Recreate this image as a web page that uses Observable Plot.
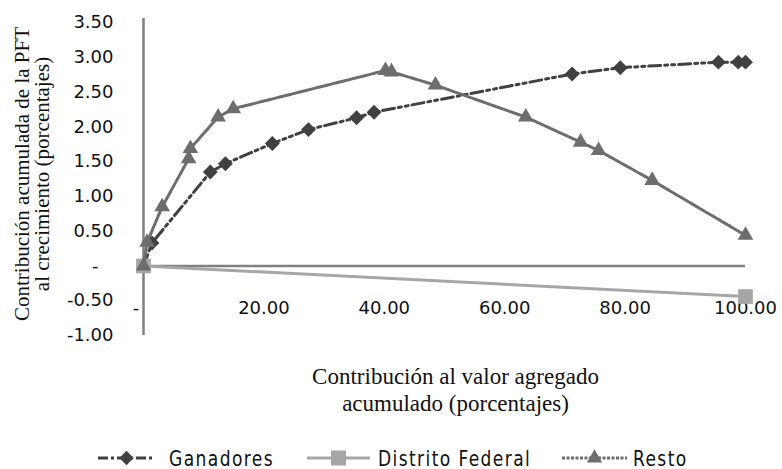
<!DOCTYPE html>
<html><head><meta charset="utf-8">
<script src="https://cdn.jsdelivr.net/npm/d3@7"></script>
<script src="https://cdn.jsdelivr.net/npm/@observablehq/plot@0.6"></script>
<style>
body{margin:0;background:#fff;width:782px;height:469px;overflow:hidden}
#chart svg{display:block}
#legend{position:relative;width:782px;height:29px;font-family:"DejaVu Sans Condensed","DejaVu Sans",sans-serif;font-size:19px;letter-spacing:1.4px;color:#111}
.sample{position:absolute;top:6px;height:24px}
.lab{position:absolute;top:8px;height:20px;line-height:20px;transform:scaleY(1.12);transform-origin:50% 50%;white-space:nowrap}
</style></head><body>
<div id="chart"></div>
<div id="legend"></div>
<script>
// ---- data ----
const seriesNames = ["Ganadores", "Distrito Federal", "Resto"];
const ganadoresX = [0, 1.4, 11.1, 13.6, 21.4, 27.4, 35.4, 38.3, 71.2, 79.2, 95.5, 98.8, 100];
const ganadoresY = [0, 0.33, 1.35, 1.47, 1.76, 1.96, 2.13, 2.21, 2.76, 2.85, 2.93, 2.93, 2.93];
const distritoX = [0, 100];
const distritoY = [0, -0.44];
const restoX = [0, 0.6, 3.1, 7.5, 7.8, 12.4, 14.9, 40.2, 41.2, 48.5, 63.5, 72.6, 75.6, 84.5, 100];
const restoY = [0, 0.34, 0.85, 1.54, 1.69, 2.14, 2.26, 2.81, 2.79, 2.60, 2.14, 1.78, 1.66, 1.23, 0.44];
const xTicks = [0, 20, 40, 60, 80, 100];
const yTicks = [-1, -0.5, 0, 0.5, 1, 1.5, 2, 2.5, 3, 3.5];
const yTitle = "Contribución acumulada de la PFT\nal crecimiento (porcentajes)";
const xTitle = "Contribución al valor agregado\nacumulado (porcentajes)";

const toRows = (xs, ys) => xs.map((x, i) => ({x, y: ys[i]}));
const ganadores = toRows(ganadoresX, ganadoresY);
const distrito = toRows(distritoX, distritoY);
const resto = toRows(restoX, restoY);

const fmt = d => d === 0 ? "-\u2007\u2009" : d.toFixed(2);

const cG = "#404040", cD = "#a6a6a6", cR = "#6d6d6d", cAxis = "#808080";
const dashG = "12,4,3,4,3,4", dashR = "5,1.5";

const chart = Plot.plot({
  width: 782, height: 440,
  marginLeft: 143, marginRight: 37, marginTop: 22, marginBottom: 105,
  x: {domain: [0, 100], label: null},
  y: {domain: [-1, 3.5], label: null},
  style: {fontFamily: "DejaVu Sans", fontSize: "18px", color: "#111", background: "#fff", overflow: "visible"},
  marks: [
    Plot.ruleY([0], {stroke: cAxis, strokeWidth: 2.5}),
    Plot.ruleX([0], {stroke: cAxis, strokeWidth: 2.5, insetTop: -4}),
    Plot.axisY({ticks: yTicks, tickSize: 0, tickPadding: 30, tickFormat: fmt, fontSize: 18, label: null}),
    Plot.axisX({ticks: xTicks, tickSize: 0, tickPadding: 0, dy: -34, tickFormat: fmt, fontSize: 18, label: null}),
    Plot.line(ganadores, {x: "x", y: "y", stroke: cG, strokeWidth: 3, strokeDasharray: dashG}),
    Plot.dot(ganadores, {x: "x", y: "y", symbol: "diamond2", r: 6.7, fill: cG}),
    Plot.line(distrito, {x: "x", y: "y", stroke: cD, strokeWidth: 3}),
    Plot.dot(distrito, {x: "x", y: "y", symbol: "square", r: 8.3, fill: cD}),
    Plot.line(resto, {x: "x", y: "y", stroke: cR, strokeWidth: 3, strokeDasharray: dashR}),
    Plot.dot(resto, {x: "x", y: "y", symbol: "triangle", r: 5.8, fill: cR}),
    Plot.text([yTitle], {text: d => d, frameAnchor: "left", textAnchor: "middle", lineAnchor: "middle",
      rotate: -90, dx: -111, dy: -5,
      fontFamily: "Liberation Serif", fontSize: 21, lineHeight: 0.95, fill: "#111"}),
    Plot.text([xTitle], {text: d => d, frameAnchor: "bottom", textAnchor: "middle", lineAnchor: "middle",
      dx: 11, dy: 53,
      fontFamily: "Liberation Serif", fontSize: 23, lineHeight: 1.2, fill: "#111"})
  ]
});
document.getElementById("chart").appendChild(chart);

// ---- legend ----
const legend = d3.select("#legend");
const items = [
  {name: seriesNames[0], color: cG, dash: "10,3,3,3", symbol: d3.symbolDiamond2, size: 130, sx: 98, sw: 57, tx: 169},
  {name: seriesNames[1], color: cD, dash: null, symbol: d3.symbolSquare, size: 225, sx: 307, sw: 63, tx: 378},
  {name: seriesNames[2], color: cR, dash: "3,1.5", symbol: d3.symbolTriangle, size: 100, sx: 562, sw: 65, tx: 633}
];
for (const it of items) {
  const s = legend.append("svg").attr("class", "sample")
    .style("left", it.sx + "px").attr("width", it.sw).attr("height", 24);
  s.append("line").attr("x1", 0).attr("x2", it.sw).attr("y1", 12).attr("y2", 12)
    .attr("stroke", it.color).attr("stroke-width", 3).attr("stroke-dasharray", it.dash);
  s.append("path").attr("d", d3.symbol(it.symbol, it.size)())
    .attr("transform", `translate(${it.sw / 2},12)`).attr("fill", it.color);
  legend.append("div").attr("class", "lab").style("left", it.tx + "px").text(it.name);
}
</script>
</body></html>
